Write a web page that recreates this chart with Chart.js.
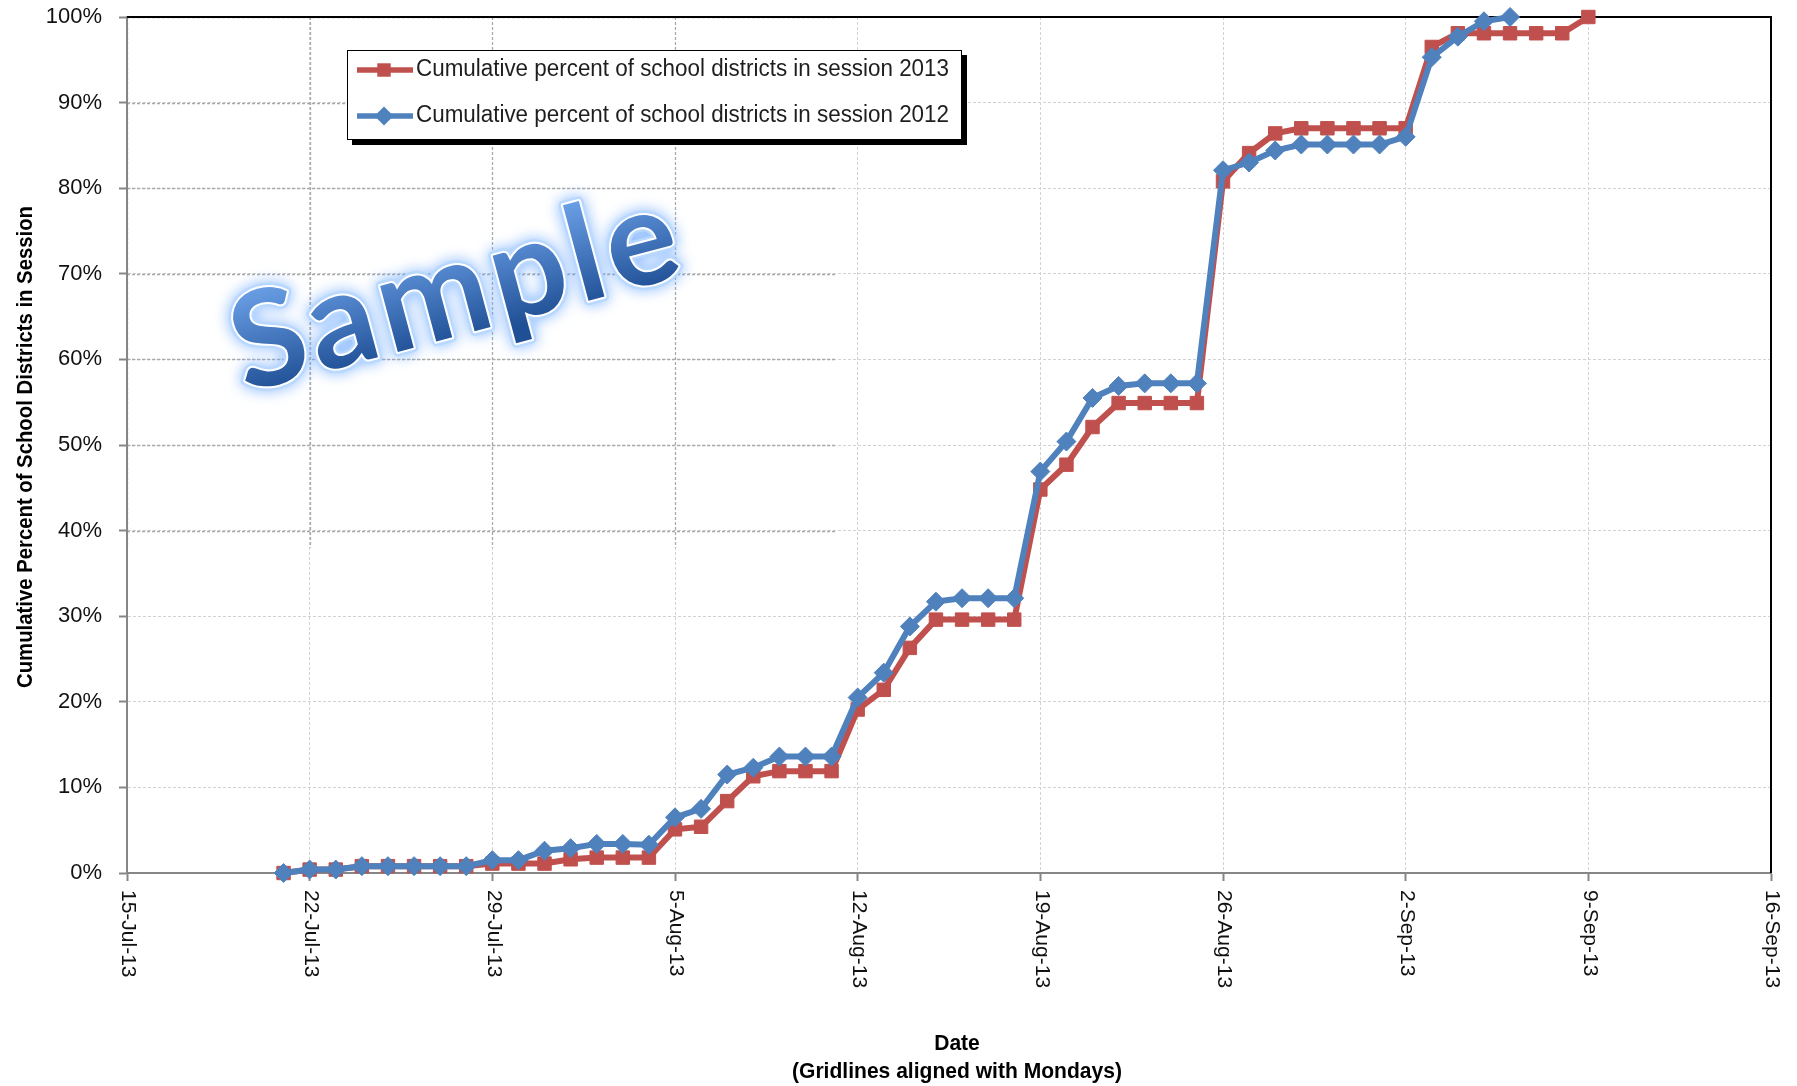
<!DOCTYPE html>
<html>
<head>
<meta charset="utf-8">
<script src="https://cdn.jsdelivr.net/npm/chart.js@4.4.1/dist/chart.umd.min.js"></script>
<style>
  html, body { margin: 0; padding: 0; background: #ffffff; }
  #c { display: block; }
</style>
</head>
<body>
<canvas id="c" width="1797" height="1086"></canvas>
<script>
// ---------------- DATA ----------------
const axisStartDate = '2013-07-15';
const axisEndDate = '2013-09-16';
const tickStepDays = 7;

const dates = [
  '2013-07-21','2013-07-22','2013-07-23','2013-07-24','2013-07-25','2013-07-26','2013-07-27','2013-07-28',
  '2013-07-29','2013-07-30','2013-07-31','2013-08-01','2013-08-02','2013-08-03','2013-08-04',
  '2013-08-05','2013-08-06','2013-08-07','2013-08-08','2013-08-09','2013-08-10','2013-08-11',
  '2013-08-12','2013-08-13','2013-08-14','2013-08-15','2013-08-16','2013-08-17','2013-08-18',
  '2013-08-19','2013-08-20','2013-08-21','2013-08-22','2013-08-23','2013-08-24','2013-08-25',
  '2013-08-26','2013-08-27','2013-08-28','2013-08-29','2013-08-30','2013-08-31','2013-09-01',
  '2013-09-02','2013-09-03','2013-09-04','2013-09-05','2013-09-06','2013-09-07','2013-09-08',
  '2013-09-09'
];

const session2013 = [
  0, 0.4, 0.4, 0.8, 0.8, 0.8, 0.8, 0.8,
  1.1, 1.1, 1.1, 1.6, 1.8, 1.8, 1.8,
  5.1, 5.4, 8.4, 11.3, 11.9, 11.9, 11.9,
  19.1, 21.4, 26.3, 29.6, 29.6, 29.6, 29.6,
  44.8, 47.7, 52.1, 54.9, 54.9, 54.9, 54.9,
  80.8, 84.1, 86.4, 87.0, 87.0, 87.0, 87.0,
  87.0, 96.5, 98.1, 98.1, 98.1, 98.1, 98.1,
  100
];

const session2012 = [
  0, 0.4, 0.4, 0.8, 0.8, 0.8, 0.8, 0.8,
  1.5, 1.5, 2.6, 2.9, 3.4, 3.4, 3.3,
  6.5, 7.5, 11.5, 12.3, 13.6, 13.6, 13.6,
  20.5, 23.4, 28.8, 31.7, 32.1, 32.1, 32.1,
  46.9, 50.4, 55.5, 56.9, 57.2, 57.2, 57.2,
  82.1, 83.0, 84.4, 85.1, 85.1, 85.1, 85.1,
  86.0, 95.3, 97.7, 99.5, 100, null, null,
  null
];

const seriesLabels = [
  'Cumulative percent of school districts in session 2013',
  'Cumulative percent of school districts in session 2012'
];
const yTickValues = [0, 10, 20, 30, 40, 50, 60, 70, 80, 90, 100];
const monthNames = ['Jan','Feb','Mar','Apr','May','Jun','Jul','Aug','Sep','Oct','Nov','Dec'];
const xTitle = 'Date';
const xSubtitle = '(Gridlines aligned with Mondays)';
const yTitle = 'Cumulative Percent of School Districts in Session';
const watermarkText = 'Sample';

// ---------------- HELPERS ----------------
const DAY_MS = 86400000;
function utc(s) { const p = s.split('-').map(Number); return Date.UTC(p[0], p[1] - 1, p[2]); }
const baseMs = utc(axisStartDate);
function dayIndex(s) { return Math.round((utc(s) - baseMs) / DAY_MS); }
function fmtDay(v) {
  const d = new Date(baseMs + v * DAY_MS);
  return d.getUTCDate() + '-' + monthNames[d.getUTCMonth()] + '-' + String(d.getUTCFullYear()).slice(2);
}
function toPoints(values) {
  const out = [];
  values.forEach((v, i) => { if (v !== null && v !== undefined) out.push({ x: dayIndex(dates[i]), y: v }); });
  return out;
}

const RED = '#C0504D';
const BLUE = '#4F81BD';

function fitText(ctx, text, font, targetW) {
  ctx.font = font;
  const w = ctx.measureText(text).width;
  return targetW / w;
}

// ---------------- PLUGIN ----------------
const decorPlugin = {
  id: 'decor',
  beforeDatasetsDraw(chart) {
    const { ctx, chartArea: a, scales: { x, y } } = chart;

    // darker dotted gridlines in the upper-left block (as in the source picture)
    ctx.save();
    const rx = x.getPixelForValue(27.2);
    const ry = y.getPixelForValue(38);
    ctx.beginPath();
    ctx.rect(a.left + 1, a.top, rx - a.left - 1, ry - a.top);
    ctx.clip();
    ctx.strokeStyle = '#a9a9a9';
    ctx.lineWidth = 1.3;
    ctx.setLineDash([3, 2]);
    x.ticks.forEach(t => {
      const px = Math.round(x.getPixelForValue(t.value)) + 0.5;
      ctx.beginPath(); ctx.moveTo(px, a.top); ctx.lineTo(px, a.bottom); ctx.stroke();
    });
    y.ticks.forEach(t => {
      const py = Math.round(y.getPixelForValue(t.value)) + 0.5;
      ctx.beginPath(); ctx.moveTo(a.left, py); ctx.lineTo(a.right, py); ctx.stroke();
    });
    ctx.restore();

    // black frame top + right
    ctx.save();
    ctx.strokeStyle = '#000000';
    ctx.lineWidth = 2;
    ctx.beginPath();
    ctx.moveTo(a.left, a.top);
    ctx.lineTo(a.right, a.top);
    ctx.lineTo(a.right, a.bottom);
    ctx.stroke();
    ctx.restore();

    // watermark
    ctx.save();
    ctx.translate(468, 333);
    ctx.rotate(-15 * Math.PI / 180);
    const wmFamily = 'Lato, "Open Sans", "DejaVu Sans", sans-serif';
    try { ctx.letterSpacing = '5px'; } catch (e) {}
    let fs = 130;
    ctx.font = 'bold ' + fs + 'px ' + wmFamily;
    const w0 = ctx.measureText(watermarkText).width;
    fs = fs * 462 / w0;
    ctx.font = 'bold ' + fs.toFixed(1) + 'px ' + wmFamily;
    ctx.textAlign = 'center';
    ctx.textBaseline = 'alphabetic';
    ctx.lineJoin = 'round';
    ctx.shadowColor = 'rgba(110,170,255,0.9)';
    ctx.shadowBlur = 14;
    ctx.strokeStyle = '#b8d8ff';
    ctx.lineWidth = 9;
    ctx.strokeText(watermarkText, 0, 0);
    ctx.shadowBlur = 0;
    ctx.shadowColor = 'rgba(0,0,0,0)';
    ctx.strokeStyle = '#ffffff';
    ctx.lineWidth = 4;
    ctx.strokeText(watermarkText, 0, 0);
    const g = ctx.createLinearGradient(0, -fs * 0.75, 0, fs * 0.05);
    g.addColorStop(0, '#6a9fe6');
    g.addColorStop(1, '#1f4f95');
    ctx.fillStyle = g;
    ctx.fillText(watermarkText, 0, 0);
    ctx.restore();
  },
  afterDraw(chart) {
    const { ctx, chartArea: a, scales: { x } } = chart;

    // x tick labels, rotated to read top-to-bottom
    ctx.save();
    ctx.fillStyle = '#111111';
    ctx.font = '21px "Liberation Sans", Arial, sans-serif';
    ctx.textAlign = 'left';
    ctx.textBaseline = 'middle';
    x.ticks.forEach(t => {
      const px = x.getPixelForValue(t.value);
      ctx.save();
      ctx.translate(px + 1, a.bottom + 17);
      ctx.rotate(Math.PI / 2);
      ctx.fillText(fmtDay(t.value), 0, 0);
      ctx.restore();
    });
    ctx.restore();

    // axis titles
    const titleFont = 'bold 22px "Liberation Sans", Arial, sans-serif';
    ctx.save();
    ctx.fillStyle = '#000000';
    ctx.textAlign = 'center';
    ctx.textBaseline = 'alphabetic';
    const sx = fitText(ctx, xSubtitle, titleFont, 330);
    ctx.font = titleFont;
    ctx.save(); ctx.translate(957, 1050); ctx.scale(sx, 1); ctx.fillText(xTitle, 0, 0); ctx.restore();
    ctx.save(); ctx.translate(957, 1078); ctx.scale(sx, 1); ctx.fillText(xSubtitle, 0, 0); ctx.restore();
    const sy = fitText(ctx, yTitle, titleFont, 482);
    ctx.font = titleFont;
    ctx.save(); ctx.translate(32, 447); ctx.rotate(-Math.PI / 2); ctx.scale(sy, 1); ctx.fillText(yTitle, 0, 0); ctx.restore();
    ctx.restore();

    // legend box with shadow
    const LG = { left: 347, top: 50, right: 962, bottom: 140, shadow: 5 };
    ctx.save();
    ctx.fillStyle = '#000000';
    ctx.fillRect(LG.left + LG.shadow, LG.top + LG.shadow, LG.right - LG.left, LG.bottom - LG.top);
    ctx.fillStyle = '#ffffff';
    ctx.fillRect(LG.left, LG.top, LG.right - LG.left, LG.bottom - LG.top);
    ctx.strokeStyle = '#000000';
    ctx.lineWidth = 1;
    ctx.strokeRect(LG.left + 0.5, LG.top + 0.5, LG.right - LG.left - 1, LG.bottom - LG.top - 1);
    const rows = [70, 116];
    const legendFont = '23px "Liberation Sans", Arial, sans-serif';
    chart.data.datasets.forEach((ds, i) => {
      const yy = rows[i];
      ctx.strokeStyle = ds.borderColor;
      ctx.lineWidth = 5.5;
      ctx.beginPath(); ctx.moveTo(357, yy); ctx.lineTo(413, yy); ctx.stroke();
      ctx.fillStyle = ds.borderColor;
      const r = 9.5;
      ctx.beginPath();
      if (ds.pointStyle === 'rect') {
        const s = r * Math.SQRT1_2;
        ctx.rect(384 - s, yy - s, 2 * s, 2 * s);
      } else {
        ctx.moveTo(384 - r, yy); ctx.lineTo(384, yy - r); ctx.lineTo(384 + r, yy); ctx.lineTo(384, yy + r); ctx.closePath();
      }
      ctx.fill();
      const sc = fitText(ctx, ds.label, legendFont, 533);
      ctx.font = legendFont;
      ctx.fillStyle = '#1e1e1e';
      ctx.textAlign = 'left';
      ctx.textBaseline = 'middle';
      ctx.save(); ctx.translate(416, yy); ctx.scale(sc, 1); ctx.fillText(ds.label, 0, 0); ctx.restore();
    });
    ctx.restore();
  }
};

// ---------------- CHART ----------------
const gridCommon = {
  color: '#d2d2d2',
  lineWidth: 1,
  drawTicks: true,
  tickLength: 8,
  tickColor: '#868686',
  tickWidth: 2
};
const borderCommon = { display: true, color: '#868686', width: 2, dash: [3, 2] };

new Chart(document.getElementById('c').getContext('2d'), {
  type: 'line',
  data: {
    datasets: [
      {
        label: seriesLabels[0],
        data: toPoints(session2013),
        borderColor: RED,
        backgroundColor: RED,
        pointStyle: 'rect',
        pointRadius: 9.5,
        pointBorderWidth: 1,
        pointBorderColor: RED,
        pointBackgroundColor: RED,
        borderWidth: 6,
        tension: 0,
        order: 1,
        clip: false
      },
      {
        label: seriesLabels[1],
        data: toPoints(session2012),
        borderColor: BLUE,
        backgroundColor: BLUE,
        pointStyle: 'rectRot',
        pointRadius: 9.5,
        pointBorderWidth: 1,
        pointBorderColor: BLUE,
        pointBackgroundColor: BLUE,
        borderWidth: 6,
        tension: 0,
        order: 0,
        clip: false
      }
    ]
  },
  options: {
    responsive: false,
    devicePixelRatio: 1,
    animation: false,
    layout: { padding: { left: 0, right: 26, top: 17, bottom: 0 } },
    plugins: { legend: { display: false }, tooltip: { enabled: false } },
    scales: {
      x: {
        type: 'linear',
        min: dayIndex(axisStartDate),
        max: dayIndex(axisEndDate),
        afterFit(s) { s.height = 213; s.paddingLeft = 0; s.paddingRight = 0; },
        ticks: { display: false, stepSize: tickStepDays },
        grid: gridCommon,
        border: borderCommon
      },
      y: {
        min: yTickValues[0],
        max: yTickValues[yTickValues.length - 1],
        afterFit(s) { s.width = 127; s.paddingTop = 0; s.paddingBottom = 0; },
        afterBuildTicks(s) { s.ticks = yTickValues.map(v => ({ value: v })); },
        ticks: {
          callback: v => v + '%',
          font: { family: '"Liberation Sans", Arial, sans-serif', size: 22 },
          color: '#111111',
          padding: 17
        },
        grid: gridCommon,
        border: borderCommon
      }
    }
  },
  plugins: [decorPlugin]
});
</script>
</body>
</html>
